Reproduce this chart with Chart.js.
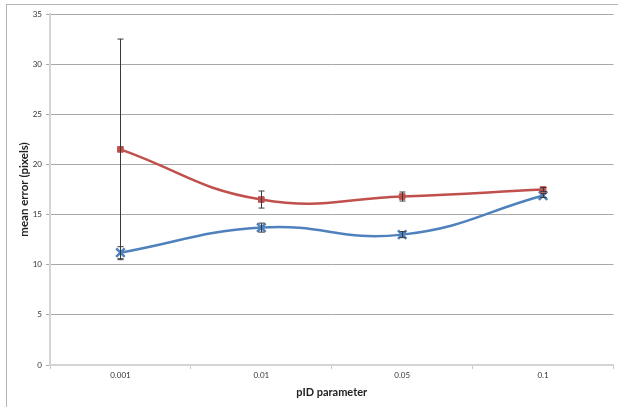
<!DOCTYPE html>
<html><head><meta charset="utf-8">
<script src="https://cdn.jsdelivr.net/npm/chart.js@4/dist/chart.umd.min.js"></script>
<style>
html,body{margin:0;padding:0;background:#fff;}
#wrap{position:relative;width:618px;height:407px;overflow:hidden;}
#frame{position:absolute;left:6px;top:4px;width:700px;height:500px;border-left:1px solid #b4b4b4;border-top:1px solid #b4b4b4;pointer-events:none;}
canvas{position:absolute;left:0;top:0;}
</style></head>
<body>
<div id="wrap"><canvas id="c" width="622" height="407"></canvas><div id="frame"></div></div>
<script>
const categories = ["0.001", "0.01", "0.05", "0.1"];
const redValues = [21.5, 16.5, 16.8, 17.5];
const redErrors = [11.0, 0.85, 0.45, 0.2];
const blueValues = [11.2, 13.7, 13.0, 16.9];
const blueErrors = [0.6, 0.45, 0.3, 0.2];
const yTicks = [0, 5, 10, 15, 20, 25, 30, 35];

const errorBars = {
  id: 'errorBars',
  afterDatasetsDraw(chart) {
    const ctx = chart.ctx, x = chart.scales.x, y = chart.scales.y;
    const sets = [[redValues, redErrors], [blueValues, blueErrors]];
    ctx.save();
    ctx.strokeStyle = '#3a3a3a';
    ctx.lineWidth = 1;
    sets.forEach(([vals, errs]) => {
      vals.forEach((v, i) => {
        const px = Math.round(x.getPixelForValue(i)) + 0.5;
        const y1 = y.getPixelForValue(v + errs[i]);
        const y2 = y.getPixelForValue(v - errs[i]);
        ctx.beginPath();
        ctx.moveTo(px, y1); ctx.lineTo(px, y2);
        ctx.moveTo(px - 3, y1); ctx.lineTo(px + 3, y1);
        ctx.moveTo(px - 3, y2); ctx.lineTo(px + 3, y2);
        ctx.stroke();
      });
    });
    ctx.restore();
  }
};

new Chart(document.getElementById('c'), {
  type: 'line',
  data: {
    labels: categories,
    datasets: [
      { label: 'red', data: redValues, borderColor: '#C0504D', backgroundColor: '#C0504D',
        borderWidth: 2.5, tension: 0.45, pointStyle: 'rect', pointRadius: 4, pointBorderWidth: 1,
        pointBorderColor: '#C0504D', pointBackgroundColor: '#C0504D' },
      { label: 'blue', data: blueValues, borderColor: '#4F81BD', backgroundColor: '#4F81BD',
        borderWidth: 2.5, tension: 0.45, pointStyle: 'crossRot', pointRadius: 6, pointBorderWidth: 2.5,
        pointBorderColor: '#4F81BD', pointBackgroundColor: '#4F81BD' }
    ]
  },
  options: {
    responsive: false,
    animation: false,
    layout: { padding: { left: 0, right: 0, top: 14, bottom: 0 } },
    plugins: { legend: { display: false }, tooltip: { enabled: false } },
    scales: {
      x: {
        offset: true,
        afterFit(s) { s.height = 42; },
        grid: { display: true, drawOnChartArea: false, drawTicks: true, tickLength: 4, color: '#c8c8c8', offset: true },
        border: { color: '#d4d4d4', width: 2 },
        ticks: { color: '#333', font: { family: 'Lato, "Open Sans", sans-serif', size: 8 }, padding: 2, maxRotation: 0 },
        title: { display: true, text: 'pID parameter', color: '#222',
          font: { family: 'Lato, "Open Sans", sans-serif', size: 11, weight: 'bold' }, padding: { top: 2, bottom: 8 } }
      },
      y: {
        min: 0, max: 35,
        afterFit(s) { s.width = 50; },
        afterBuildTicks(s) { s.ticks = yTicks.map(v => ({ value: v })); },
        grid: { color: '#a8a8a8', lineWidth: 1, tickLength: 4, drawTicks: true },
        border: { color: '#d4d4d4', width: 2 },
        ticks: { color: '#333', font: { family: 'Lato, "Open Sans", sans-serif', size: 8 }, padding: 4 },
        title: { display: true, text: 'mean error (pixels)', color: '#222',
          font: { family: 'Lato, "Open Sans", sans-serif', size: 11.5, weight: 'bold' }, padding: { top: 17, bottom: 0 } }
      }
    }
  },
  plugins: [errorBars]
});
</script>
</body></html>
